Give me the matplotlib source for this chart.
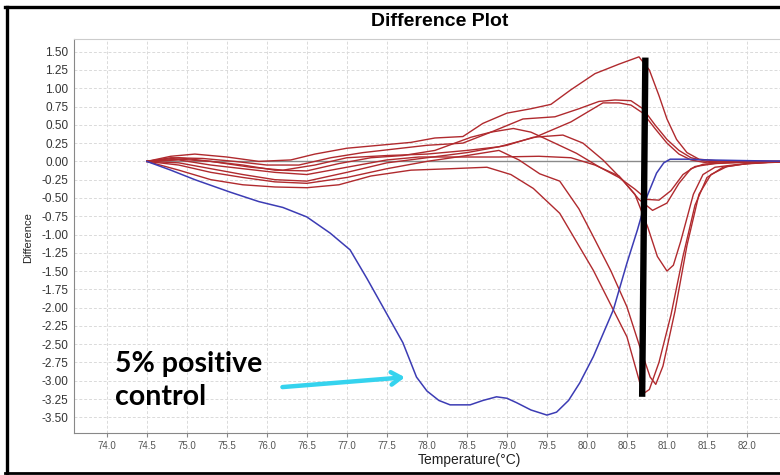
import matplotlib
matplotlib.use("Agg")
import matplotlib.pyplot as plt
import numpy as np
from matplotlib.lines import Line2D

plt.rcParams['font.family'] = ['Liberation Sans', 'DejaVu Sans']
plt.rcParams['axes.unicode_minus'] = False

# --- data ---
# red sample curves
a_temp = [74.5, 74.8, 75.1, 75.5, 75.9, 76.3, 76.6, 77.0, 77.4, 77.8, 78.1, 78.45, 78.7, 79.0, 79.3,
          79.55, 79.8, 80.1, 80.4, 80.65, 80.78, 80.9, 81.0, 81.12, 81.25, 81.4, 81.7, 82.0, 82.6]
a_diff = [0, 0.07, 0.1, 0.06, 0.0, 0.02, 0.1, 0.18, 0.22, 0.26, 0.32, 0.34, 0.52, 0.66, 0.72,
          0.78, 0.98, 1.2, 1.33, 1.43, 1.25, 0.9, 0.58, 0.3, 0.12, 0.03, 0.0, 0.0, 0.0]

b_temp = [74.5, 74.8, 75.2, 75.6, 76.0, 76.4, 76.8, 77.2, 77.6, 78.0, 78.45, 78.8, 79.2, 79.6, 79.9,
          80.15, 80.35, 80.55, 80.7, 80.85, 81.0, 81.15, 81.3, 81.5, 81.8, 82.6]
b_diff = [0, 0.05, 0.04, 0.0, -0.05, -0.05, 0.05, 0.12, 0.17, 0.22, 0.25, 0.4, 0.58, 0.61, 0.72,
          0.82, 0.84, 0.83, 0.72, 0.5, 0.3, 0.15, 0.05, 0.0, 0.0, 0.0]

c_temp = [74.5, 74.9, 75.3, 75.8, 76.2, 76.6, 77.0, 77.5, 78.0, 78.5, 78.9, 79.35, 79.8, 80.2,
          80.4, 80.55, 80.7, 80.85, 81.0, 81.15, 81.3, 81.5, 81.8, 82.6]
c_diff = [0, 0.03, 0.0, -0.08, -0.12, -0.05, 0.05, 0.08, 0.1, 0.15, 0.2, 0.33, 0.54, 0.8,
          0.8, 0.77, 0.66, 0.45, 0.25, 0.1, 0.02, -0.02, 0.0, 0.0]

d_temp = [74.5, 74.9, 75.3, 75.7, 76.1, 76.5, 76.9, 77.3, 77.7, 78.1, 78.55, 78.8, 79.08, 79.3,
          79.5, 79.87, 80.16, 80.4, 80.6, 80.75, 80.9, 81.05, 81.2, 81.35, 81.6, 82.0, 82.6]
d_diff = [0, 0.05, 0.0, -0.05, -0.12, -0.13, -0.03, 0.05, 0.08, 0.15, 0.33, 0.4, 0.45, 0.4,
          0.3, 0.11, -0.08, -0.22, -0.38, -0.52, -0.53, -0.4, -0.18, -0.07, -0.03, -0.01, 0.0]

e_temp = [74.5, 74.9, 75.3, 75.7, 76.1, 76.5, 77.0, 77.5, 78.0, 78.5, 79.0, 79.33, 79.7, 79.95,
          80.2, 80.45, 80.65, 80.82, 81.0, 81.15, 81.3, 81.45, 81.7, 82.0, 82.6]
e_diff = [0, -0.02, -0.1, -0.18, -0.25, -0.27, -0.15, -0.02, 0.05, 0.12, 0.22, 0.33, 0.36, 0.25,
          0.02, -0.26, -0.52, -0.67, -0.57, -0.3, -0.1, -0.04, -0.02, -0.01, 0.0]

f_temp = [74.5, 74.9, 75.3, 75.7, 76.1, 76.5, 77.0, 77.5, 77.9, 78.4, 78.9, 79.4, 79.8, 80.1,
          80.4, 80.6, 80.76, 80.88, 81.0, 81.08, 81.17, 81.33, 81.45, 81.6, 81.9, 82.2, 82.6]
f_diff = [0, 0.02, -0.05, -0.1, -0.15, -0.18, -0.08, 0.02, 0.06, 0.06, 0.06, 0.07, 0.05, -0.05,
          -0.2, -0.45, -0.9, -1.3, -1.5, -1.42, -1.1, -0.45, -0.18, -0.08, -0.04, -0.02, 0.0]

g_temp = [74.5, 74.9, 75.3, 75.7, 76.1, 76.5, 76.9, 77.3, 77.8, 78.3, 78.75, 79.05, 79.33, 79.66,
          80.08, 80.5, 80.7, 80.78, 80.9, 81.05, 81.2, 81.35, 81.5, 81.7, 82.0, 82.3, 82.6]
g_diff = [0, -0.12, -0.25, -0.32, -0.35, -0.36, -0.32, -0.2, -0.12, -0.1, -0.08, -0.18, -0.37, -0.71,
          -1.49, -2.4, -3.18, -3.12, -2.75, -2.1, -1.3, -0.6, -0.22, -0.08, -0.03, -0.01, 0.0]

h_temp = [74.5, 74.9, 75.3, 75.7, 76.1, 76.5, 77.0, 77.5, 78.0, 78.5, 78.9, 79.15, 79.41, 79.66,
          79.9, 80.08, 80.3, 80.5, 80.65, 80.79, 80.86, 80.95, 81.1, 81.25, 81.4, 81.55, 81.75,
          82.0, 82.3, 82.6]
h_diff = [0, -0.05, -0.15, -0.22, -0.28, -0.3, -0.22, -0.1, 0.0, 0.08, 0.15, 0.02, -0.17, -0.27,
          -0.65, -1.03, -1.5, -1.99, -2.5, -2.95, -3.05, -2.8, -2.05, -1.15, -0.45, -0.18, -0.07,
          -0.03, -0.01, 0.0]

# blue: 5% positive control
ctrl_temp = [74.5, 74.8, 75.1, 75.54, 75.9, 76.2, 76.5, 76.79, 77.04, 77.25, 77.45, 77.7, 77.87,
             78.0, 78.15, 78.29, 78.54, 78.7, 78.87, 79.0, 79.12, 79.3, 79.5, 79.62, 79.77, 79.91,
             80.08, 80.33, 80.5, 80.63, 80.75, 80.87, 80.96, 81.04, 81.25, 81.5, 82.0, 82.6]
ctrl_diff = [0, -0.12, -0.25, -0.42, -0.55, -0.63, -0.76, -0.98, -1.21, -1.6, -1.99, -2.48, -2.95,
             -3.14, -3.27, -3.33, -3.33, -3.27, -3.22, -3.24, -3.3, -3.4, -3.47, -3.43, -3.27, -3.03,
             -2.67, -2.03, -1.39, -0.94, -0.48, -0.16, -0.02, 0.03, 0.03, 0.02, 0.01, 0.0]

# hand-drawn black marker line (data coords)
marker_temp = [80.73, 80.69]
marker_diff = [1.42, -3.22]

# baseline
base_temp = [74.5, 82.6]
base_diff = [0, 0]

y_ticks = np.arange(-3.5, 1.51, 0.25)
x_ticks = np.arange(74.0, 82.01, 0.5)

RED = '#b02a2e'
BLUE = '#3c3cb4'

# --- figure ---
fig = plt.figure(figsize=(7.8, 4.75), dpi=100)
ax = fig.add_axes([74 / 780, 1 - 433 / 475, (795 - 74) / 780, (433 - 39) / 475])
ax.set_xlim(73.59, 82.6)
ax.set_ylim(-3.715, 1.674)

ax.set_axisbelow(True)
ax.grid(True, color='#dadada', linestyle=(0, (3, 2)), linewidth=0.7)
ax.set_yticks(y_ticks)
ax.set_xticks(x_ticks)
ax.set_yticklabels([f'{v:.2f}' for v in y_ticks], fontsize=8.5, color='#333333')
ax.set_xticklabels([f'{v:.1f}' for v in x_ticks], fontsize=7, color='#555555')
ax.tick_params(axis='y', length=0, pad=4)
ax.tick_params(axis='x', length=3, width=0.8, color='#888888', pad=3)

for side in ['top', 'right']:
    ax.spines[side].set_color('#cccccc')
for side in ['left', 'bottom']:
    ax.spines[side].set_color('#888888')

ax.plot(base_temp, base_diff, color='#8a8a8a', linewidth=1.0)

for t, d in [(a_temp, a_diff), (b_temp, b_diff), (c_temp, c_diff), (d_temp, d_diff),
             (e_temp, e_diff), (f_temp, f_diff), (g_temp, g_diff), (h_temp, h_diff)]:
    ax.plot(t, d, color=RED, linewidth=1.0)

ax.plot(ctrl_temp, ctrl_diff, color=BLUE, linewidth=1.1)

ax.plot(marker_temp, marker_diff, color='black', linewidth=4.6, solid_capstyle='butt')

# annotation
ax.text(74.1, -2.88, '5% positive', fontsize=20.5, fontweight='bold', family=['Lato', 'DejaVu Sans'],
        va='baseline', ha='left', color='black')
ax.text(74.1, -3.33, 'control', fontsize=20.5, fontweight='bold', family=['Lato', 'DejaVu Sans'],
        va='baseline', ha='left', color='black')
ax.annotate('', xy=(77.76, -2.95), xytext=(76.16, -3.09),
            arrowprops=dict(arrowstyle='->,head_length=0.7,head_width=0.45',
                            color='#35d3ee', linewidth=3.2))

# titles / labels
fig.text(440 / 780, 1 - 22 / 475, 'Difference Plot', ha='center', va='center',
         fontsize=14, fontweight='bold')
fig.text(28 / 780, 1 - 238 / 475, 'Difference', rotation=90, ha='center', va='center',
         fontsize=8, color='#222222')
fig.text(469 / 780, 1 - 460 / 475, 'Temperature(°C)', ha='center', va='center',
         fontsize=10, color='#222222')

# slide frame
fig.add_artist(Line2D([6.5 / 780, 6.5 / 780], [1 - 6.5 / 475, 1 - 473 / 475],
                      transform=fig.transFigure, color='black', linewidth=2.4))
fig.add_artist(Line2D([5 / 780, 1], [1 - 6.5 / 475, 1 - 6.5 / 475],
                      transform=fig.transFigure, color='black', linewidth=2.4))
fig.add_artist(Line2D([5 / 780, 1], [1 - 473 / 475, 1 - 473 / 475],
                      transform=fig.transFigure, color='black', linewidth=2.0))

fig.savefig('out.png', dpi=100)
